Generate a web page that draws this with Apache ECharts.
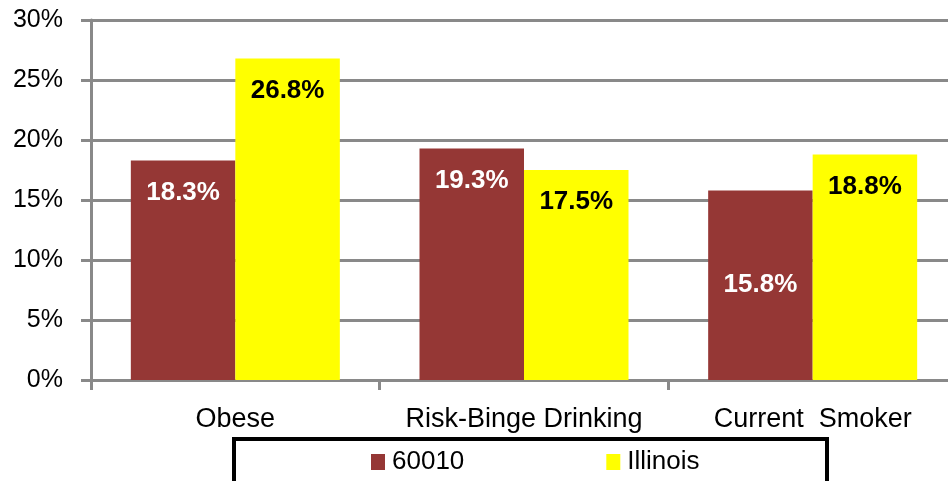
<!DOCTYPE html>
<html>
<head>
<meta charset="utf-8">
<script src="https://cdn.jsdelivr.net/npm/echarts@6/dist/echarts.min.js"></script>
<style>
html,body{margin:0;padding:0;background:#fff;overflow:hidden;width:948px;height:481px;}
#c{width:960px;height:481px;}
</style>
</head>
<body>
<div id="c"></div>
<script>
const categories = ['Obese', 'Risk-Binge Drinking', 'Current  Smoker'];
const series60010 = [18.3, 19.3, 15.8];
const seriesIllinois = [26.8, 17.5, 18.8];
const seriesNames = ['60010', 'Illinois'];
const yTicks = { min: 0, max: 30, interval: 5 };

const FONT = '"Liberation Sans", Arial, sans-serif';
const GRID = '#898989';

const chart = echarts.init(document.getElementById('c'), null, { renderer: 'canvas' });

function labelData(values, centerPos) {
  return values.map((v, i) => {
    const d = { value: v };
    if (centerPos && centerPos[i]) d.label = { position: 'inside', distance: 0 };
    return d;
  });
}

chart.setOption({
  animation: false,
  backgroundColor: '#fff',
  textStyle: { fontFamily: FONT },
  grid: { left: 91, right: 3, top: 20, bottom: 101, containLabel: false },
  xAxis: {
    type: 'category',
    data: categories,
    axisLine: { show: true, lineStyle: { color: GRID, width: 3 } },
    axisTick: { show: true, length: 10, lineStyle: { color: GRID, width: 3 } },
    axisLabel: { color: '#000', fontSize: 27, fontFamily: FONT, margin: 26, interval: 0 },
    splitLine: { show: false }
  },
  yAxis: {
    type: 'value',
    min: yTicks.min, max: yTicks.max, interval: yTicks.interval,
    axisLine: { show: true, lineStyle: { color: GRID, width: 3 } },
    axisTick: { show: true, length: 10, lineStyle: { color: GRID, width: 3 } },
    axisLabel: { color: '#000', fontSize: 25, fontFamily: FONT, margin: 28, padding: [5, 0, 0, 0], formatter: '{value}%' },
    splitLine: { show: true, lineStyle: { color: GRID, width: 3 } }
  },
  legend: {
    left: 371, top: 449,
    padding: 0,
    itemWidth: 14, itemHeight: 16, itemGap: 142,
    icon: 'rect',
    textStyle: { color: '#000', fontSize: 26, fontFamily: FONT, padding: [5, 0, 0, 2] },
    data: seriesNames
  },
  graphic: [{
    type: 'rect',
    shape: { x: 234, y: 439, width: 593, height: 50 },
    style: { fill: 'none', stroke: '#000', lineWidth: 4 },
    silent: true
  }],
  series: [
    {
      name: seriesNames[0], type: 'bar', data: labelData(series60010, [false, false, true]),
      barWidth: 104.5, barGap: '0%',
      itemStyle: { color: '#953735' },
      label: { show: true, position: 'insideTop', distance: 19, color: '#fff', fontWeight: 'bold', fontSize: 26, fontFamily: FONT, formatter: p => p.value.toFixed(1) + '%' }
    },
    {
      name: seriesNames[1], type: 'bar', data: labelData(seriesIllinois),
      barWidth: 104.5, barGap: '0%',
      itemStyle: { color: '#FFFF00' },
      label: { show: true, position: 'insideTop', distance: 19, color: '#000', fontWeight: 'bold', fontSize: 26, fontFamily: FONT, formatter: p => p.value.toFixed(1) + '%' }
    }
  ]
});
</script>
</body>
</html>
